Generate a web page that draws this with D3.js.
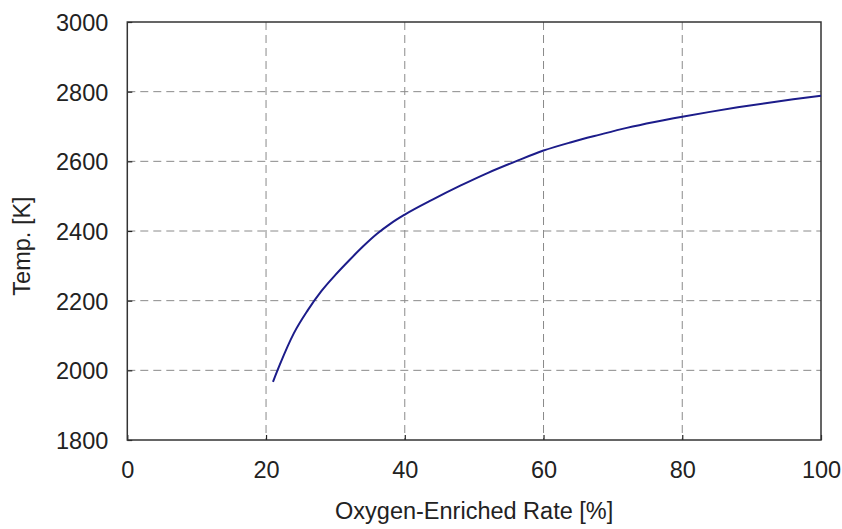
<!DOCTYPE html>
<html><head><meta charset="utf-8">
<script src="https://cdn.jsdelivr.net/npm/d3@7"></script>
<style>body{margin:0;background:#fff}svg{display:block}</style>
</head><body>
<svg id="c" width="842" height="529"></svg>
<script>
const rate = [21,22,24,26,28,30,32,34,36,38,40,44,48,52,56,60,64,68,72,76,80,84,88,92,96,100];
const temp = [1967,2017,2106,2172,2228,2274,2316,2356,2392,2422,2447,2490,2530,2567,2600,2631,2655,2676,2696,2713,2728,2742,2755,2767,2778,2788];
const xTicks = [0,20,40,60,80,100];
const yTicks = [1800,2000,2200,2400,2600,2800,3000];
const xLabel = "Oxygen-Enriched Rate [%]";
const yLabel = "Temp. [K]";

const L=127.3,R=821,T=22,B=440;
const svg=d3.select("#c");
const x=d3.scaleLinear().domain([0,100]).range([L,R]);
const y=d3.scaleLinear().domain([1800,3000]).range([B,T]);
const font="'Liberation Sans', Arial, Helvetica, sans-serif";
const fs=23.5;

// grid
svg.append("g").selectAll("line").data(xTicks.slice(1,-1)).join("line")
  .attr("x1",d=>x(d)).attr("x2",d=>x(d)).attr("y1",T).attr("y2",B)
  .attr("stroke","#8a8a8a").attr("stroke-width",1).attr("stroke-dasharray","8,5");
svg.append("g").selectAll("line").data(yTicks.slice(1,-1)).join("line")
  .attr("y1",d=>y(d)).attr("y2",d=>y(d)).attr("x1",L).attr("x2",R)
  .attr("stroke","#8a8a8a").attr("stroke-width",1).attr("stroke-dasharray","8,5");

// axes with inward ticks
const xa=svg.append("g").attr("transform",`translate(0,${B})`)
  .call(d3.axisBottom(x).tickValues(xTicks).tickFormat(d3.format("d")).tickSizeInner(-5).tickSizeOuter(0).tickPadding(21));
const ya=svg.append("g").attr("transform",`translate(${L},0)`)
  .call(d3.axisLeft(y).tickValues(yTicks).tickFormat(d3.format("d")).tickSizeInner(-5).tickSizeOuter(0).tickPadding(19));
[xa,ya].forEach(a=>{
  a.select(".domain").remove();
  a.selectAll("line").attr("stroke","#222").attr("stroke-width",1.2);
  a.selectAll("text").attr("font-family",font).attr("font-size",fs).attr("fill","#222");
});
ya.selectAll("text").attr("dy","0.36em");

// frame
svg.append("rect").attr("x",L).attr("y",T).attr("width",R-L).attr("height",B-T)
  .attr("fill","none").attr("stroke","#333").attr("stroke-width",1.5);

// line
svg.append("path").datum(rate.map((r,i)=>[r,temp[i]]))
  .attr("d",d3.line().x(d=>x(d[0])).y(d=>y(d[1])).curve(d3.curveMonotoneX))
  .attr("fill","none").attr("stroke","#1c1c8a").attr("stroke-width",2);

// labels
svg.append("text").attr("x",(L+R)/2).attr("y",519).attr("text-anchor","middle")
  .attr("font-family",font).attr("font-size",fs).attr("fill","#222").text(xLabel);
svg.append("text").attr("transform","translate(30,246) rotate(-90)").attr("text-anchor","middle")
  .attr("font-family",font).attr("font-size",fs).attr("fill","#222").text(yLabel);
</script>
</body></html>
